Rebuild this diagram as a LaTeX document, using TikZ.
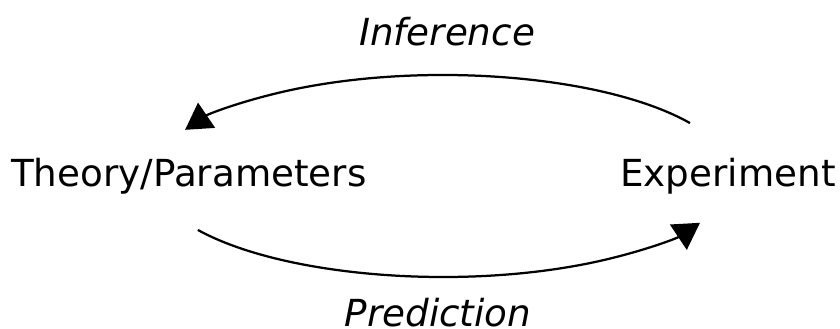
\documentclass[tikz,border=0pt]{standalone}
\usepackage{fontspec}
\setmainfont{DejaVu Sans}
\usetikzlibrary{arrows.meta}

\tikzset{
  label/.style={font=\fontsize{26.5}{30}\selectfont, inner sep=0pt},
  flow/.style={line width=1.6pt, -{Triangle[length=0.65cm, width=0.75cm]}}
}

\begin{document}
\begin{tikzpicture}
    \useasboundingbox (0,0) rectangle (21,8.225);

    % the two ends of the cycle
    \node[label] (theory) at (4.72,3.825) {Theory/Parameters};
    \node[label] (experiment) at (18.2,3.825) {Experiment};

    % captions of the arcs
    \node[label, font=\fontsize{26.5}{30}\selectfont\itshape] (inference) at (11.175,7.425) {Inference};
    \node[label, font=\fontsize{26.5}{30}\selectfont\itshape] (prediction) at (10.95,0.42) {Prediction};

    % centre of the ellipse the arcs lie on
    \coordinate (mid) at (11.075,3.825);

    % experiment back to theory
    \draw[flow] ([shift={(31.6:7.25 and 2.525)}]mid)
      arc[start angle=31.6, end angle=152.8, x radius=7.25, y radius=2.525];

    % theory on to experiment
    \draw[flow] ([shift={(212.3:7.25 and 2.525)}]mid)
      arc[start angle=212.3, end angle=332.4, x radius=7.25, y radius=2.525];
\end{tikzpicture}
\end{document}
